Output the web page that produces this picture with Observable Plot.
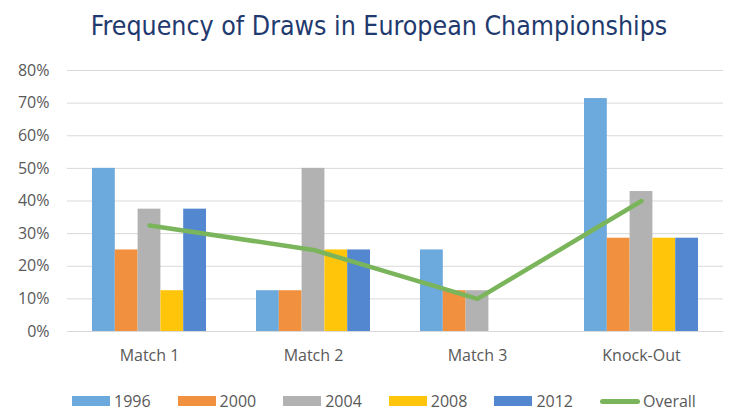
<!DOCTYPE html>
<html><head><meta charset="utf-8">
<script src="https://cdn.jsdelivr.net/npm/d3@7"></script>
<script src="https://cdn.jsdelivr.net/npm/@observablehq/plot@0.6"></script>
<style>
body{margin:0;background:#fff;width:730px;height:420px;overflow:hidden;font-family:"Open Sans",sans-serif;}
#title{height:52px;line-height:52px;text-align:center;padding-left:28px;box-sizing:border-box;font-family:"DejaVu Sans Condensed","DejaVu Sans",sans-serif;font-size:26.5px;color:#1F3A6E;white-space:nowrap;}
#chart svg{display:block;}
#legend{display:flex;align-items:center;height:40px;padding-left:72px;font-size:16px;color:#595959;box-sizing:border-box;}
.item{display:flex;align-items:center;margin-right:27px;}
.sw{width:38px;height:10px;margin-right:4px;}
.ln{width:40px;height:5px;border-radius:3px;margin-right:3px;}
</style>
</head><body>
<div id="title">Frequency of Draws in European Championships</div>
<div id="chart"></div>
<div id="legend"></div>
<script>
const groups = ["Match 1", "Match 2", "Match 3", "Knock-Out"];
const years = ["1996", "2000", "2004", "2008", "2012"];
const v1996 = [0.5, 0.125, 0.25, 0.714];
const v2000 = [0.25, 0.125, 0.125, 0.286];
const v2004 = [0.375, 0.5, 0.125, 0.429];
const v2008 = [0.125, 0.25, 0, 0.286];
const v2012 = [0.375, 0.25, 0, 0.286];
const overall = [0.325, 0.25, 0.10, 0.40];
const yTicks = [0, 0.1, 0.2, 0.3, 0.4, 0.5, 0.6, 0.7, 0.8];
const colors = ["#6CA9DD", "#F19140", "#B2B2B2", "#FFC50A", "#5387D0"];
const lineColor = "#7AB55C";

const seriesVals = [v1996, v2000, v2004, v2008, v2012];
const barW = 0.139;
const bars = [];
seriesVals.forEach((vals, i) => {
  vals.forEach((v, g) => {
    bars.push({year: years[i], group: groups[g], value: v,
      x1: g + (i - 2.5) * barW, x2: g + (i - 1.5) * barW});
  });
});
const lineData = overall.map((v, g) => ({g, value: v}));

const plot = Plot.plot({
  width: 730,
  height: 329,
  marginLeft: 67,
  marginRight: 7,
  marginTop: 18,
  marginBottom: 50,
  style: {fontFamily: "'Open Sans', sans-serif", fontSize: "16px", color: "#595959", background: "#fff"},
  x: {type: "linear", domain: [-0.5, 3.5]},
  y: {domain: [0, 0.8]},
  color: {domain: years, range: colors},
  marks: [
    Plot.ruleY(yTicks, {stroke: "#d9d9d9", strokeWidth: 1}),
    Plot.rectY(bars, {x1: "x1", x2: "x2", y: "value", fill: "year"}),
    Plot.line(lineData, {x: "g", y: "value", stroke: lineColor, strokeWidth: 4.5, strokeLinecap: "round", strokeLinejoin: "round"}),
    Plot.axisY({ticks: yTicks, tickFormat: d3.format(".0%"), tickSize: 0, tickPadding: 18, label: null}),
    Plot.axisX({ticks: [0, 1, 2, 3], tickFormat: i => groups[i], tickSize: 0, tickPadding: 18, label: null})
  ]
});
document.getElementById("chart").appendChild(plot);

const legend = document.getElementById("legend");
years.forEach((y, i) => {
  const it = document.createElement("div");
  it.className = "item";
  it.innerHTML = `<span class="sw" style="background:${colors[i]}"></span><span>${y}</span>`;
  legend.appendChild(it);
});
const ov = document.createElement("div");
ov.className = "item";
ov.innerHTML = `<span class="ln" style="background:${lineColor}"></span><span>Overall</span>`;
legend.appendChild(ov);
</script>
</body></html>
